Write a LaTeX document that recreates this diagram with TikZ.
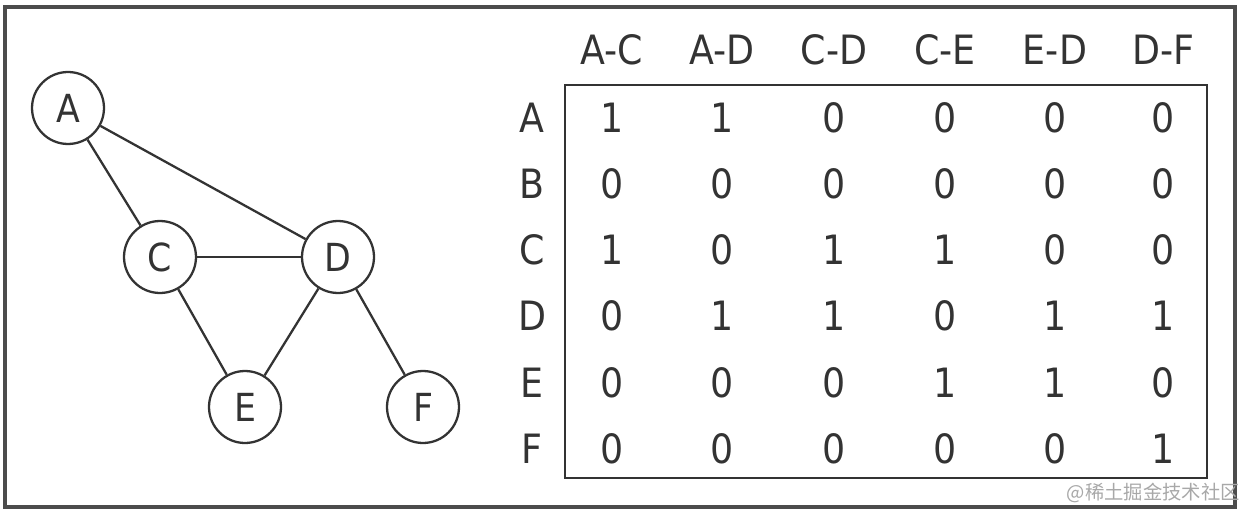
\documentclass[tikz,border=0pt]{standalone}
\usepackage{fontspec}
\setmainfont{DejaVu Sans Condensed}
\newfontfamily\cjkfont{Noto Sans CJK SC}
\usetikzlibrary{positioning}
\definecolor{inkgray}{HTML}{333333}
\definecolor{markgray}{HTML}{A8A8A8}
\tikzset{
x=0.02cm, y=-0.02cm, % one unit is one pixel of the reference
vertex/.style={circle, draw=inkgray, line width=1.3pt, minimum size=1.44cm, inner sep=0pt, text=inkgray, font=\fontsize{22}{22}\selectfont}, % graph nodes
link/.style={draw=inkgray, line width=1.3pt}, % graph edges
cell/.style={text=inkgray, inner sep=0pt, font=\fontsize{23}{23}\selectfont}, % matrix entries
}

\begin{document}
\begin{tikzpicture}
\useasboundingbox (0,0) rectangle (1246,520);
\draw[line width=1.8pt, draw=black!70] (5,7) rectangle (1235,507);

% graph
\node[vertex] (A) at (68,108) {A};
\node[vertex] (C) at (160,257) {C};
\node[vertex] (D) at (338,257) {D};
\node[vertex] (E) at (245,407) {E};
\node[vertex] (F) at (423,407) {F};

% edges
\path (A) edge [link] (C); % A to C
\path (A) edge [link] (D); % A to D
\path (C) edge [link] (D); % C to D
\path (C) edge [link] (E); % C to E
\path (D) edge [link] (E); % D to E
\path (D) edge [link] (F); % D to F

% incidence matrix
\draw[line width=1.3pt, draw=inkgray] (565,85) rectangle (1207,478);
\foreach \lab/\xx/\k in {A-C/612/1, A-D/722/2, C-D/834/3, C-E/945/4, E-D/1055/5, D-F/1163/6}
  \node[cell] (head\k) at (\xx,50) {\lab};
\foreach \r/\yy/\a/\b/\c/\d/\e/\f in {A/118/1/1/0/0/0/0, B/184/0/0/0/0/0/0, C/250/1/0/1/1/0/0, D/316/0/1/1/0/1/1, E/383/0/0/0/1/1/0, F/449/0/0/0/0/0/1}{
  \node[cell] (row\r) at (532,\yy) {\r};
  \foreach \v/\xx/\k in {\a/612/1, \b/722/2, \c/834/3, \d/945/4, \e/1055/5, \f/1163/6}
    \node[cell] (m\r\k) at (\xx,\yy) {\v};
}

% watermark
\node[text=markgray, inner sep=0pt, anchor=east, font=\cjkfont\fontsize{11}{11}\selectfont] (mark) at (1240,493) {@稀土掘金技术社区};
\end{tikzpicture}
\end{document}
